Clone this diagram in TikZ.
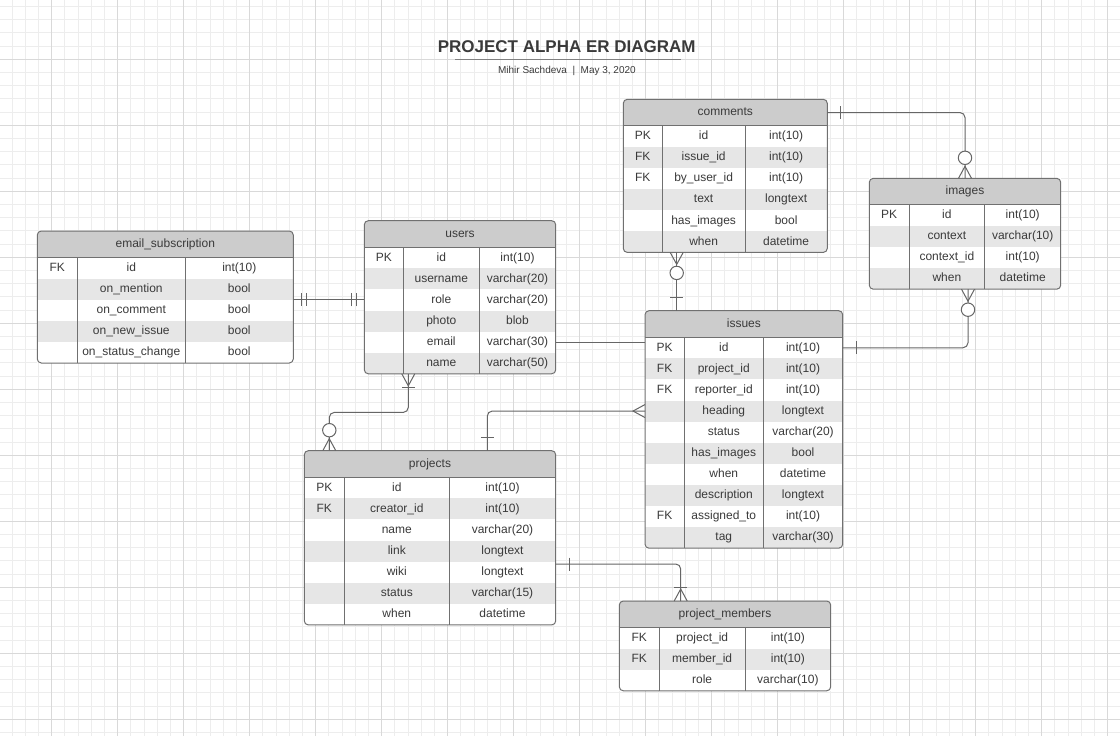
\documentclass[tikz,border=0pt]{standalone}
\usepackage{fontspec}
\setmainfont{Liberation Sans}
\usetikzlibrary{calc}

\definecolor{minorgray}{HTML}{EDEDED}
\definecolor{majorgray}{HTML}{D9D9D9}
\definecolor{headgray}{HTML}{CCCCCC}
\definecolor{rowgray}{HTML}{E6E6E6}
\definecolor{linegray}{HTML}{707070}
\definecolor{relgray}{HTML}{666666}
\definecolor{textgray}{HTML}{3A3A3A}

\tikzset{
  minorline/.style={draw=minorgray, line width=1pt},
  majorline/.style={draw=majorgray, line width=1pt},
  tablebody/.style={fill=white, inner sep=0pt, outer sep=0pt},
  headfill/.style={fill=headgray},
  rowfill/.style={fill=rowgray},
  tableline/.style={draw=linegray, line width=1pt},
  headtext/.style={text=textgray, font=\fontsize{12}{14}\selectfont, text height=8.6pt, text depth=2.1pt, inner sep=0pt},
  celltext/.style={headtext},
  titletext/.style={text=textgray, font=\fontsize{17}{20}\selectfont\bfseries, inner sep=0pt},
  bytext/.style={text=textgray, font=\fontsize{10}{12}\selectfont, inner sep=0pt},
  relline/.style={draw=relgray, line width=1pt},
  crow/.pic={\draw[relline] (0,-6.5) -- (12,0) -- (0,6.5);},
  onebar/.pic={\draw[relline] (13.5,-6.5) -- (13.5,6.5);},
  twobars/.pic={\draw[relline] (8,-6.5) -- (8,6.5) (13,-6.5) -- (13,6.5);},
  ring/.pic={\draw[relline, fill=white] (20.5,0) circle[radius=6.7pt];},
}

% name, left, top, key/field/type widths, rows, title, fields
\newcommand{\ertable}[9]{%
  \pgfmathsetmacro{\tw}{#4+#5+#6}%
  \pgfmathsetmacro{\th}{26.5+21.1*#7}%
  \node[tablebody, minimum width=\tw pt, minimum height=\th pt, anchor=north west] (#1) at (#2,#3) {};
  \begin{scope}
    \clip[rounded corners=4pt] (#1.north west) rectangle (#1.south east);
    \fill[headfill] (#1.north west) rectangle ({#2+\tw},{#3+26.5});
    \foreach \k/\f/\t [count=\i] in {#9} {
      \ifodd\i\else
        \fill[rowfill] ({#2},{#3+26.5+21.1*(\i-1)}) rectangle ({#2+\tw},{#3+26.5+21.1*\i});
      \fi
    }
  \end{scope}
  \draw[tableline, rounded corners=4pt] (#1.north west) rectangle (#1.south east);
  \draw[tableline] ({#2},{#3+26.5}) -- ({#2+\tw},{#3+26.5});
  \draw[tableline] ({#2+#4},{#3+26.5}) -- ({#2+#4},{#3+\th});
  \draw[tableline] ({#2+#4+#5},{#3+26.5}) -- ({#2+#4+#5},{#3+\th});
  \node[headtext] (#1-head) at ({#2+\tw/2},{#3+13.25}) {#8};
  \foreach \k/\f/\t [count=\i] in {#9} {
    \node[celltext] (#1-k\i) at ({#2+#4/2},{#3+26.5+21.1*(\i-0.5)}) {\k};
    \node[celltext] (#1-f\i) at ({#2+#4+#5/2},{#3+26.5+21.1*(\i-0.5)}) {\f};
    \node[celltext] (#1-t\i) at ({#2+#4+#5+#6/2},{#3+26.5+21.1*(\i-0.5)}) {\t};
  }
}

\begin{document}
\begin{tikzpicture}[x=1pt, y=-1pt]
  \useasboundingbox (0,0) rectangle (1120,736);
  \fill[white] (0,0) rectangle (1120,736);
  \foreach \g in {-3,...,80} \draw[minorline] ({51.7+13.2*\g},0) -- ++(0,736);
  \foreach \g in {-4,...,51} \draw[minorline] (0,{59.3+13.2*\g}) -- ++(1120,0);
  \foreach \g in {0,...,16} \draw[majorline] ({51.7+66*\g},0) -- ++(0,736);
  \foreach \g in {0,...,10} \draw[majorline] (0,{59.3+66*\g}) -- ++(1120,0);

  \node[titletext, anchor=base] (title) at (566.7,52.7) {PROJECT ALPHA ER DIAGRAM};
  \draw[draw=gray, line width=1pt] ([xshift=-111.7pt, yshift=-6.6pt]title.base) -- ([xshift=114pt, yshift=-6.6pt]title.base);
  \node[bytext, anchor=base] (byline) at (566.9,73.5) {Mihir Sachdeva\ \ |\ \ May 3, 2020};

  \ertable{email}{37.3}{231}{40}{108}{108}{5}{email\_subscription}{FK/id/int(10), /on\_mention/bool, /on\_comment/bool, /on\_new\_issue/bool, /on\_status\_change/bool}
  \ertable{users}{364.3}{220.7}{39}{76}{76.4}{6}{users}{PK/id/int(10), /username/varchar(20), /role/varchar(20), /photo/blob, /email/varchar(30), /name/varchar(50)}
  \ertable{comments}{623.3}{99.3}{39}{82.7}{82.3}{6}{comments}{PK/id/int(10), FK/issue\_id/int(10), FK/by\_user\_id/int(10), /text/longtext, /has\_images/bool, /when/datetime}
  \ertable{images}{869.3}{178.3}{39.7}{75.7}{76}{4}{images}{PK/id/int(10), /context/varchar(10), /context\_id/int(10), /when/datetime}
  \ertable{issues}{645}{310.7}{39.3}{79}{79.4}{10}{issues}{PK/id/int(10), FK/project\_id/int(10), FK/reporter\_id/int(10), /heading/longtext, /status/varchar(20), /has\_images/bool, /when/datetime, /description/longtext, FK/assigned\_to/int(10), /tag/varchar(30)}
  \ertable{projects}{304.3}{450.7}{40}{105}{106.4}{7}{projects}{PK/id/int(10), FK/creator\_id/int(10), /name/varchar(20), /link/longtext, /wiki/longtext, /status/varchar(15), /when/datetime}
  \ertable{members}{619.3}{601}{40}{85.7}{85.7}{3}{project\_members}{FK/project\_id/int(10), FK/member\_id/int(10), /role/varchar(10)}

  \draw[relline] (email.east |- users-k3) -- (users.west |- users-k3);
  \pic at (email.east |- users-k3) {twobars};
  \pic[rotate=180] at (users.west |- users-k3) {twobars};

  \draw[relline] (users.east |- users-k5) -- (issues.west |- users-k5);

  \coordinate (ua) at ([xshift=44pt]users.south west);
  \coordinate (pa) at ([xshift=25pt]projects.north west);
  \draw[relline, rounded corners=5pt] (ua) |- ([yshift=38.3pt]pa) -- (pa);
  \pic[rotate=-90] at (ua) {crow};
  \pic[rotate=-90] at (ua) {onebar};
  \pic[rotate=90] at (pa) {crow};
  \pic[rotate=90] at (pa) {ring};

  \coordinate (pb) at ([xshift=183pt]projects.north west);
  \draw[relline, rounded corners=5pt] (pb) |- (issues.west |- issues-k4);
  \pic[rotate=90] at (pb) {onebar};
  \pic[rotate=180] at (issues.west |- issues-k4) {crow};

  \coordinate (pc) at ([yshift=-113.3pt]projects.north east);
  \coordinate (mc) at ([xshift=61.4pt]members.north west);
  \draw[relline, rounded corners=5pt] (pc) -| (mc);
  \pic at (pc) {onebar};
  \pic[rotate=90] at (mc) {crow};
  \pic[rotate=90] at (mc) {onebar};

  \coordinate (ca) at ([xshift=53.4pt]comments.south west);
  \draw[relline] (ca) -- (ca |- issues.north);
  \pic[rotate=-90] at (ca) {crow};
  \pic[rotate=-90] at (ca) {ring};
  \pic[rotate=90] at (ca |- issues.north) {onebar};

  \draw[relline, rounded corners=5pt] (comments.east |- comments-head) -| (images.north);
  \pic at (comments.east |- comments-head) {onebar};
  \pic[rotate=90] at (images.north) {crow};
  \pic[rotate=90] at (images.north) {ring};

  \coordinate (ib) at ([xshift=3pt]images.south);
  \draw[relline, rounded corners=5pt] (ib) |- (issues.east |- issues-k1);
  \pic[rotate=-90] at (ib) {crow};
  \pic[rotate=-90] at (ib) {ring};
  \pic at (issues.east |- issues-k1) {onebar};
\end{tikzpicture}
\end{document}
